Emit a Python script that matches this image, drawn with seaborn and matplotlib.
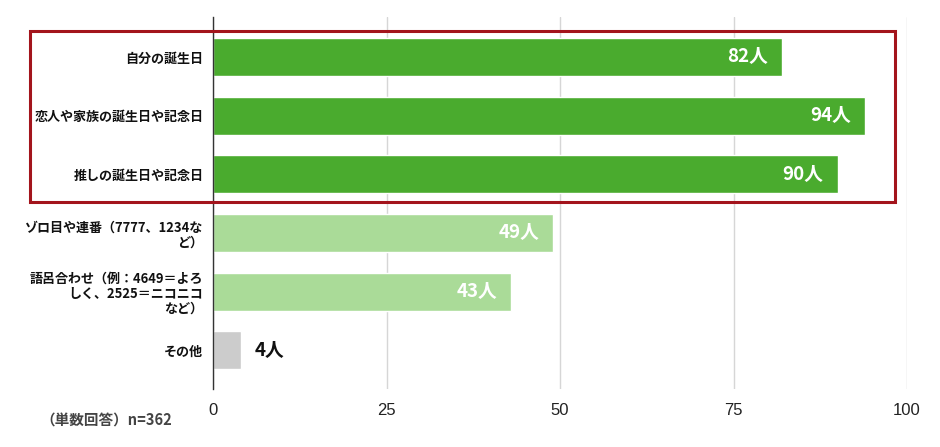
import matplotlib
matplotlib.use("Agg")
import matplotlib.pyplot as plt
import seaborn as sns
import pandas as pd
from matplotlib.patches import Rectangle

categories = [
    "自分の誕生日",
    "恋人や家族の誕生日や記念日",
    "推しの誕生日や記念日",
    "ゾロ目や連番（7777、1234な\nど）",
    "語呂合わせ（例：4649＝よろ\nしく、2525＝ニコニコ\nなど）",
    "その他",
]
values = [82, 94, 90, 49, 43, 4]
value_labels = ["82人", "94人", "90人", "49人", "43人", "4人"]
colors = ["#4aab2e", "#4aab2e", "#4aab2e", "#aadb98", "#aadb98", "#cccccc"]
xticks = [0, 25, 50, 75, 100]
footnote = "（単数回答）n=362"

sns.set_theme(style="white")
plt.rcParams["font.family"] = ["Noto Sans CJK JP", "DejaVu Sans"]

df = pd.DataFrame({"cat": categories, "val": values})

fig = plt.figure(figsize=(9.4, 4.47), dpi=100)
ax = fig.add_axes([213 / 940, 1 - 389 / 447, (907 - 213) / 940, (389 - 17) / 447])

sns.barplot(data=df, y="cat", x="val", hue="cat", palette=colors, legend=False,
            orient="h", width=0.65, ax=ax, saturation=1)

ax.set_xlim(0, 100)
ax.set_ylim(5.66, -0.68)
ax.set_xlabel("")
ax.set_ylabel("")
ax.set_xticks(xticks)
ax.set_xticklabels([str(t) for t in xticks], fontsize=12, color="#222222",
                   family=["Liberation Sans Narrow", "Liberation Sans", "DejaVu Sans"])
ax.tick_params(axis="x", length=0, pad=10)
ax.tick_params(axis="y", length=0, pad=7)
for lbl in ax.get_yticklabels():
    lbl.set_fontsize(9.4)
    lbl.set_fontweight("bold")
    lbl.set_color("#111111")
    lbl.set_horizontalalignment("right")
    lbl.set_multialignment("right")
    lbl.set_linespacing(1.1)

for s in ["top", "right", "bottom"]:
    ax.spines[s].set_visible(False)
ax.spines["left"].set_color("#333333")
ax.spines["left"].set_linewidth(1.0)
ax.grid(axis="x", color="#d6d6d6", linewidth=1)
ax.set_axisbelow(True)

for i, (v, lab) in enumerate(zip(values, value_labels)):
    if v > 20:
        ax.text(v - 2, i, lab, ha="right", va="center", color="white",
                fontsize=13.5, fontweight="bold")
    else:
        ax.text(v + 2, i, lab, ha="left", va="center", color="#111111",
                fontsize=13.5, fontweight="bold")

rect = Rectangle((30 / 940, 1 - 202 / 447), (895 - 30) / 940, (202 - 31) / 447,
                 transform=fig.transFigure, fill=False, edgecolor="#a3141c",
                 linewidth=2.2, zorder=10)
fig.patches.append(rect)

fig.text(40 / 940, 1 - 421 / 447, footnote, fontsize=10.5, color="#444444",
         fontweight="bold", ha="left", va="center")

fig.savefig("out.png", dpi=100)
